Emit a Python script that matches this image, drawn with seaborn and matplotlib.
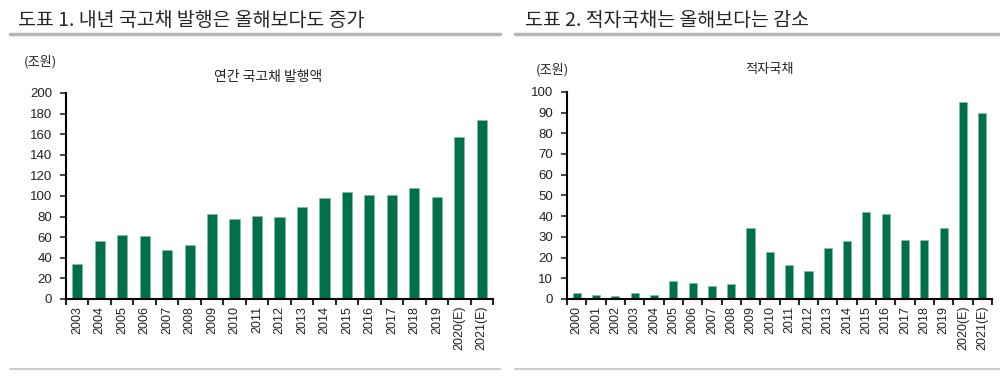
import numpy as np
import pandas as pd
import matplotlib
matplotlib.use('Agg')
import matplotlib.pyplot as plt
import seaborn as sb
from matplotlib.lines import Line2D

years1 = ['2003', '2004', '2005', '2006', '2007', '2008', '2009', '2010', '2011', '2012',
          '2013', '2014', '2015', '2016', '2017', '2018', '2019', '2020(E)', '2021(E)']
issue = [34, 56, 62.5, 61, 47.6, 52.4, 82.5, 77.7, 80.9, 79.3,
         89.3, 97.7, 104.2, 101, 101, 107.5, 99, 157.6, 174]

years2 = ['2000', '2001', '2002', '2003', '2004'] + years1[2:]
deficit = [2.9, 1.9, 1.3, 2.9, 1.9, 8.7, 7.9, 6.1, 7.1, 34.4, 22.7, 16.2,
           13.7, 24.4, 27.8, 42, 41, 28.5, 28.5, 34.4, 95, 90]

sb.set_style('white')
plt.rcParams['font.family'] = ['Noto Sans CJK KR', 'DejaVu Sans']
num_font = ['Liberation Sans', 'DejaVu Sans']

green = '#00704A'
fig = plt.figure(figsize=(10, 3.76), dpi=100)
ax1 = fig.add_axes([0.066, 0.2048, 0.427, 0.548])
ax2 = fig.add_axes([0.567, 0.2048, 0.425, 0.551])

def draw(ax, cats, vals, ymax, step, width):
    df = pd.DataFrame({'year': cats, 'value': vals})
    sb.barplot(data=df, x='year', y='value', color=green, width=width,
               edgecolor='#7fbf9f', linewidth=0.5, saturation=1, ax=ax)
    n = len(cats)
    ax.set_xlim(-0.5, n - 0.5)
    ax.set_ylim(0, ymax)
    ax.set_yticks(np.arange(0, ymax + 1, step))
    ax.set_xticks(np.arange(-0.5, n, 1.0), minor=True)
    ax.tick_params(axis='x', which='major', length=0, labelrotation=90,
                   labelsize=9, pad=5)
    ax.tick_params(axis='x', which='minor', length=4, width=1.5, direction='out',
                   bottom=True)
    ax.tick_params(axis='y', length=4, width=1.2, direction='out', left=True,
                   labelsize=9.5, pad=6)
    for lab in ax.get_xticklabels() + ax.get_yticklabels():
        lab.set_family(num_font)
        lab.set_color('#222222')
    for s in ['top', 'right']:
        ax.spines[s].set_visible(False)
    for s in ['left', 'bottom']:
        ax.spines[s].set_color('black')
        ax.spines[s].set_linewidth(1.5)
    ax.set_xlabel('')
    ax.set_ylabel('')

draw(ax1, years1, issue, 200, 20, 0.45)
draw(ax2, years2, deficit, 100, 10, 0.42)

fig.text(0.018, 0.93, '도표 1. 내년 국고채 발행은 올해보다도 증가', fontsize=14, va='baseline')
fig.text(0.525, 0.93, '도표 2. 적자국채는 올해보다는 감소', fontsize=14, va='baseline')
fig.text(0.024, 0.835, '(조원)', fontsize=9.5, va='center')
fig.text(0.268, 0.795, '연간 국고채 발행액', fontsize=10, ha='center', va='center')
fig.text(0.536, 0.815, '(조원)', fontsize=9.5, va='center')
fig.text(0.77, 0.815, '적자국채', fontsize=9.5, ha='center', va='center')

for x0, x1 in [(0.01, 0.5), (0.515, 1.0)]:
    fig.add_artist(Line2D([x0, x1], [1 - 34 / 376] * 2, color='#b5b5b5', lw=2.5))
    fig.add_artist(Line2D([x0, x1], [1 - 369 / 376] * 2, color='#cccccc', lw=1.5))

fig.savefig('out.png', dpi=100)
